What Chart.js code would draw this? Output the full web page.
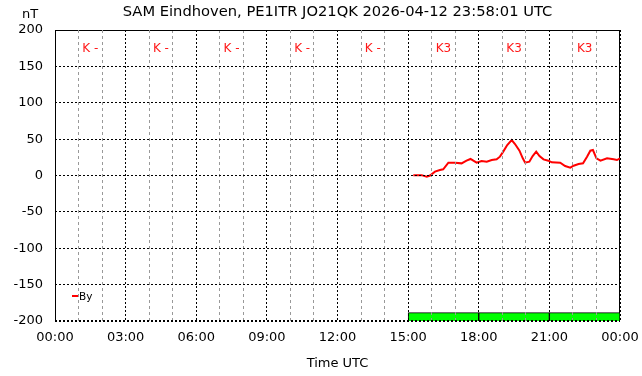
<!DOCTYPE html>
<html>
<head>
<meta charset="utf-8">
<script src="https://cdn.jsdelivr.net/npm/chart.js@4/dist/chart.umd.min.js"></script>
<style>
  html, body { margin: 0; padding: 0; background: #fff; }
  #wrap { width: 642px; height: 376px; }
</style>
</head>
<body>
<div id="wrap"><canvas id="c" width="642" height="376"></canvas></div>
<script>
// hours since 00:00 UTC and By in nT
const byHours = [15.22, 15.57, 15.79, 15.93, 16.14, 16.35, 16.49, 16.71, 16.99, 17.27, 17.48, 17.65,
    17.91, 18.12, 18.34, 18.55, 18.76, 18.9, 19.04, 19.21, 19.4, 19.54, 19.73, 19.87, 19.97,
    20.15, 20.29, 20.44, 20.58, 20.75, 20.96, 21.1, 21.46, 21.67, 21.89, 22.03, 22.24, 22.43,
    22.6, 22.74, 22.85, 23.0, 23.17, 23.45, 23.73, 23.87, 24.0];
const byValues = [0.5, 0.5, -1.6, 0, 5.3, 7.6, 8.5, 17.6, 17.6, 16.7, 20.4, 22.7,
    17.6, 19.9, 19, 21.3, 22.2, 25.9, 32.8, 41.9, 48.8, 43.3, 34.1, 23.6, 17.6,
    19, 26.8, 32.8, 26.8, 22.2, 20.4, 18.1, 17.6, 13.1, 10.8, 13.5, 15.8, 16.7,
    25.9, 34.1, 35, 23.6, 20.4, 23.6, 22.2, 21.3, 23.6];

// 3-hour K index blocks
const kCenters = [1.5, 4.5, 7.5, 10.5, 13.5, 16.5, 19.5, 22.5];
const kLabels = ['K -', 'K -', 'K -', 'K -', 'K -', 'K3', 'K3', 'K3'];
const kBarTops = [null, null, null, null, null, -188.5, -188.5, -188.5];

const xTickLabels = ['00:00', '03:00', '06:00', '09:00', '12:00', '15:00', '18:00', '21:00', '00:00'];
const titleText = 'SAM Eindhoven, PE1ITR JO21QK 2026-04-12 23:58:01 UTC';

const FONT = 'DejaVu Sans';

const decorations = {
    id: 'decorations',
    beforeDatasetsDraw(chart) {
        // frame: top, left, right solid (bottom is the dotted -200 grid line)
        const { ctx, chartArea: a } = chart;
        const l = Math.round(a.left) + 0.5, r = Math.round(a.right) - 0.5;
        const t = Math.round(a.top) + 0.5, b = Math.round(a.bottom);
        ctx.save();
        ctx.strokeStyle = '#000';
        ctx.lineWidth = 1;
        ctx.beginPath();
        ctx.moveTo(l, b);
        ctx.lineTo(l, t);
        ctx.lineTo(r, t);
        ctx.lineTo(r, b);
        ctx.stroke();
        ctx.restore();
    },
    afterDraw(chart) {
        const { ctx, chartArea: a, scales } = chart;
        ctx.save();
        ctx.fillStyle = '#000';
        ctx.textBaseline = 'middle';
        ctx.textAlign = 'center';
        ctx.font = `14.7px "${FONT}"`;
        ctx.fillText(titleText, (a.left + a.right) / 2, 12);
        ctx.font = `13px "${FONT}"`;
        ctx.fillText('nT', 30, 15);

        ctx.fillStyle = '#ff1a1a';
        ctx.font = `12px "${FONT}"`;
        kCenters.forEach((h, i) => {
            ctx.fillText(kLabels[i], scales.x.getPixelForValue(h), a.top + 19);
        });

        // legend
        const ly = a.bottom - 25;
        ctx.strokeStyle = '#ff0000';
        ctx.lineWidth = 2;
        ctx.beginPath();
        ctx.moveTo(a.left + 17, ly);
        ctx.lineTo(a.left + 23, ly);
        ctx.stroke();
        ctx.fillStyle = '#000';
        ctx.textAlign = 'left';
        ctx.font = `10.5px "${FONT}"`;
        ctx.fillText('By', a.left + 24, ly + 1);
        ctx.restore();
    }
};

const noPad = s => { s.paddingLeft = 0; s.paddingRight = 0; };

new Chart(document.getElementById('c'), {
    data: {
        datasets: [
            {
                type: 'bar',
                xAxisID: 'xk',
                data: kCenters.map((h, i) => ({ x: h, y: kBarTops[i] === null ? null : [-200, kBarTops[i]] })),
                backgroundColor: '#00ff00',
                borderColor: '#000',
                borderWidth: { left: 1, right: 1, top: 1, bottom: 0 },
                borderSkipped: false,
                grouped: false,
                barPercentage: 1,
                categoryPercentage: 1,
                order: 2
            },
            {
                type: 'line',
                data: byHours.map((h, i) => ({ x: h, y: byValues[i] })),
                borderColor: '#ff0000',
                borderWidth: 2,
                pointRadius: 0,
                tension: 0,
                order: 1
            }
        ]
    },
    options: {
        responsive: false,
        animation: false,
        layout: { padding: { top: 30, right: 22, left: 0, bottom: 0 } },
        plugins: {
            legend: { display: false },
            title: { display: false },
            tooltip: { enabled: false }
        },
        scales: {
            x: {
                type: 'linear',
                min: 0,
                max: 24,
                offset: false,
                afterFit: s => { s.height = 55; noPad(s); },
                ticks: {
                    stepSize: 1,
                    autoSkip: false,
                    maxRotation: 0,
                    padding: 9,
                    color: '#000',
                    font: { family: FONT, size: 13 },
                    callback: v => (v % 3 === 0 ? xTickLabels[v / 3] : '')
                },
                grid: {
                    z: 1,
                    drawTicks: false,
                    color: c => (c.tick && c.tick.value % 3 === 0 ? '#000' : '#999'),
                    lineWidth: 1
                },
                border: {
                    display: false,
                    dash: c => (c.tick && c.tick.value % 3 === 0 ? [2, 2] : [3, 3])
                },
                title: {
                    display: true,
                    text: 'Time UTC',
                    color: '#000',
                    font: { family: FONT, size: 13 },
                    padding: { top: 0, bottom: 5 }
                }
            },
            xk: {
                type: 'linear',
                position: 'top',
                min: 0,
                max: 24,
                offset: false,
                afterFit: s => { s.height = 0; noPad(s); },
                ticks: { stepSize: 3, display: false },
                grid: { display: false, drawTicks: false },
                border: { display: false }
            },
            y: {
                min: -200,
                max: 200,
                afterFit: s => { s.width = 55; },
                ticks: {
                    stepSize: 50,
                    padding: 12,
                    color: '#000',
                    font: { family: FONT, size: 13 }
                },
                grid: {
                    z: 1,
                    drawTicks: false,
                    color: '#000',
                    lineWidth: c => (c.tick && c.tick.value === -200 ? 2 : 1)
                },
                border: {
                    display: false,
                    dash: [2, 2]
                }
            }
        }
    },
    plugins: [decorations]
});
</script>
</body>
</html>
